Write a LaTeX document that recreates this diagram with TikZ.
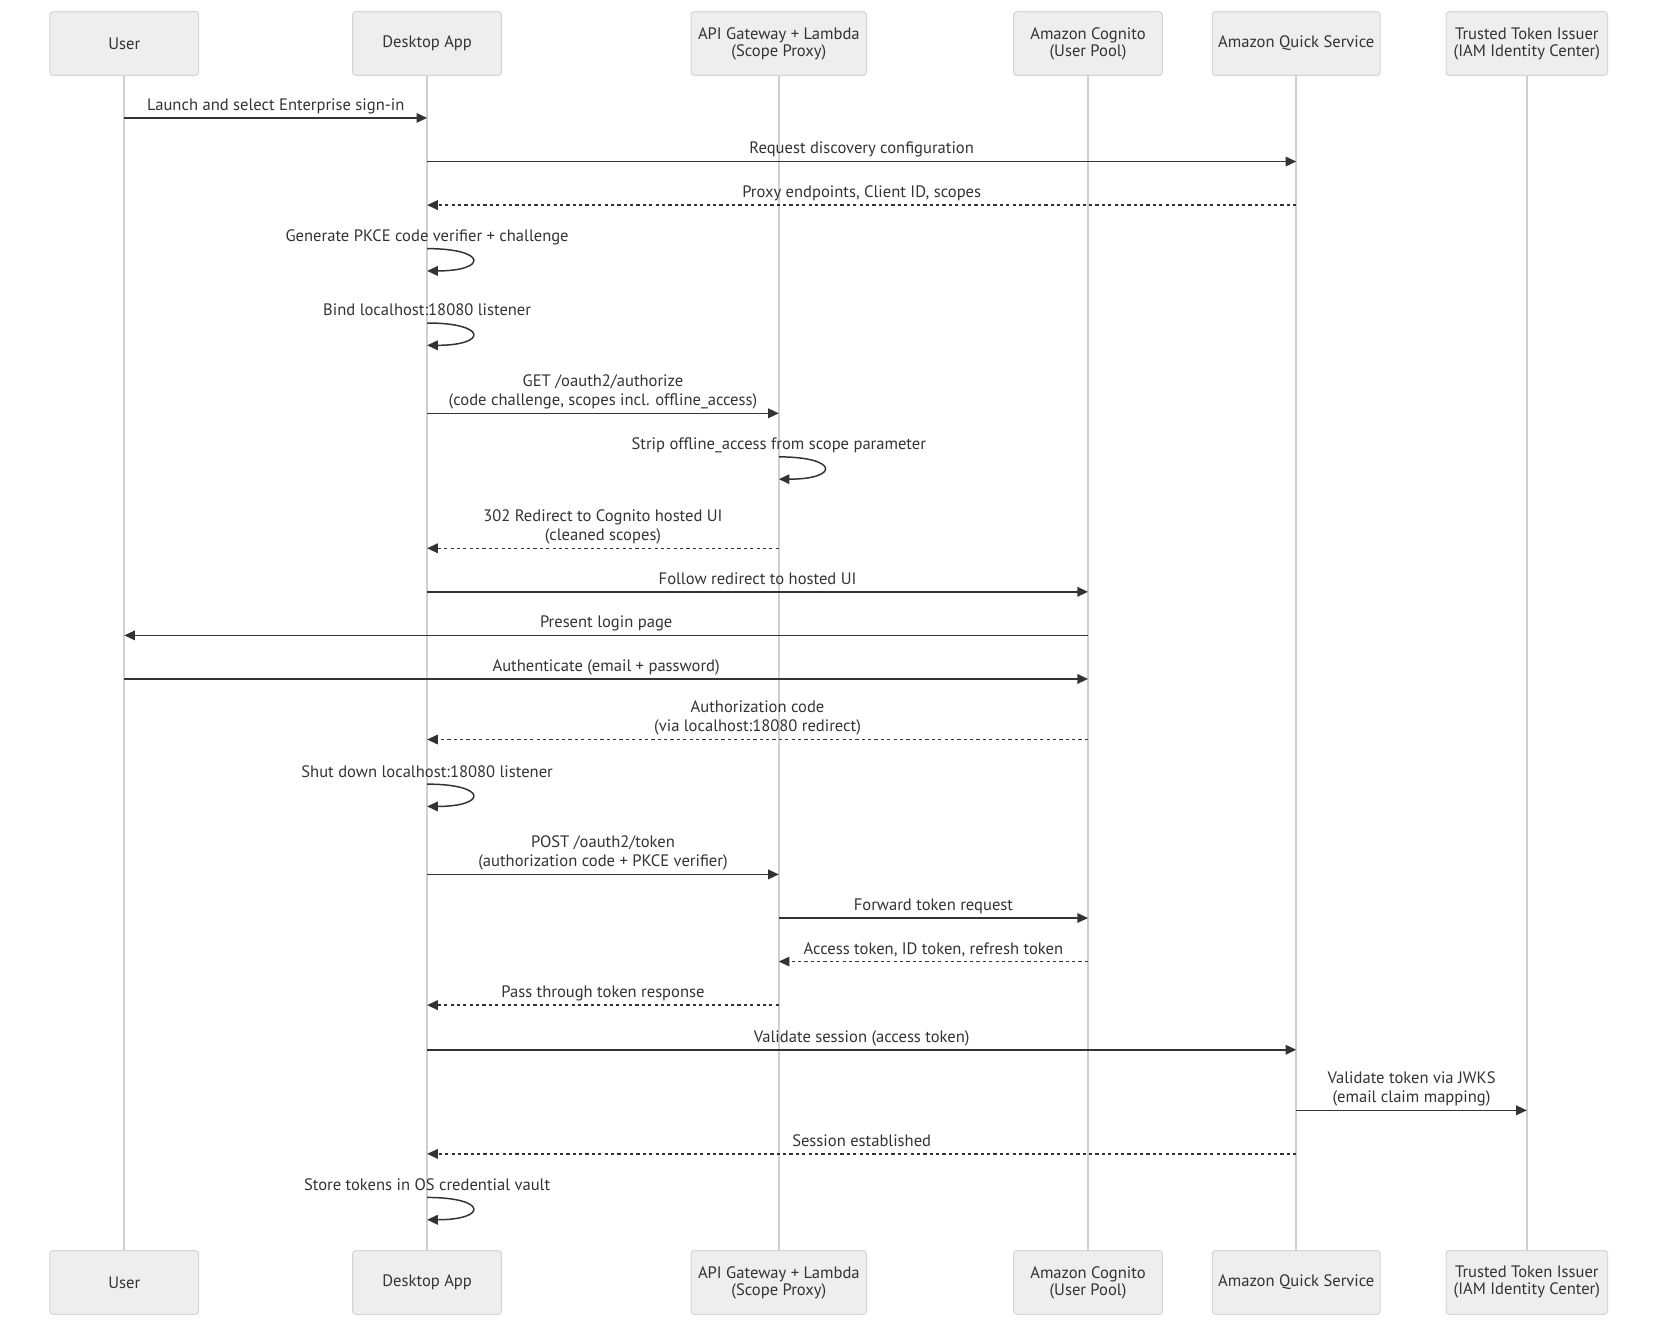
\documentclass[tikz,border=0pt]{standalone}
\usepackage{fontspec}
\setmainfont{PT Sans}
\usetikzlibrary{arrows.meta}
\definecolor{ActorFill}{HTML}{EEEEEE}
\definecolor{ActorLine}{HTML}{D6D6D6}
\definecolor{LifeLine}{HTML}{D0D0D0}
\definecolor{Ink}{HTML}{333333}

\begin{document}
\begin{tikzpicture}[x=1pt, y=1pt,
        actor/.style={draw=ActorLine, fill=ActorFill, rounded corners=3pt,
                      line width=1pt, text=Ink, font=\fontsize{15.6}{16}\selectfont,
                      align=center, minimum height=60pt, inner sep=0pt},
        life/.style={LifeLine, line width=1.6pt},
        msg/.style={Ink, line width=1.4pt, -{Triangle[length=10pt, width=9pt]}},
        reply/.style={msg, dash pattern=on 3pt off 3pt},
        lbl/.style={text=Ink, font=\fontsize{15.6}{18}\selectfont, align=center,
                    inner sep=0pt, above=1pt, execute at end node=\strut}
      ]
        \useasboundingbox (0,0) rectangle (1568,-1252);
        \node[actor, minimum width=140pt] (user) at (117,-41) {User};
        \node[actor, minimum width=140pt] (app) at (402,-41) {Desktop App};
        \node[actor, minimum width=165pt] (gw) at (733,-41) {API Gateway + Lambda\\(Scope Proxy)};
        \node[actor, minimum width=140pt] (cognito) at (1024,-41) {Amazon Cognito\\(User Pool)};
        \node[actor, minimum width=158pt] (quick) at (1220,-41) {Amazon Quick Service};
        \node[actor, minimum width=152pt] (tti) at (1437,-41) {Trusted Token Issuer\\(IAM Identity Center)};
        \node[actor, minimum width=140pt] (userB) at (117,-1207) {User};
        \node[actor, minimum width=140pt] (appB) at (402,-1207) {Desktop App};
        \node[actor, minimum width=165pt] (gwB) at (733,-1207) {API Gateway + Lambda\\(Scope Proxy)};
        \node[actor, minimum width=140pt] (cognitoB) at (1024,-1207) {Amazon Cognito\\(User Pool)};
        \node[actor, minimum width=158pt] (quickB) at (1220,-1207) {Amazon Quick Service};
        \node[actor, minimum width=152pt] (ttiB) at (1437,-1207) {Trusted Token Issuer\\(IAM Identity Center)};
        \draw[life] (user) -- (userB);
        \draw[life] (app) -- (appB);
        \draw[life] (gw) -- (gwB);
        \draw[life] (cognito) -- (cognitoB);
        \draw[life] (quick) -- (quickB);
        \draw[life] (tti) -- (ttiB);

        \coordinate (m1) at (0,-111);
        \coordinate (m2) at (0,-152);
        \coordinate (m3) at (0,-193);
        \coordinate (s4) at (0,-234);
        \coordinate (s5) at (0,-304);
        \coordinate (m6) at (0,-389);
        \coordinate (s7) at (0,-430);
        \coordinate (m8) at (0,-516);
        \coordinate (m9) at (0,-557);
        \coordinate (m10) at (0,-598);
        \coordinate (m11) at (0,-639);
        \coordinate (m12) at (0,-696);
        \coordinate (s13) at (0,-738);
        \coordinate (m14) at (0,-823);
        \coordinate (m15) at (0,-864);
        \coordinate (m16) at (0,-905);
        \coordinate (m17) at (0,-946);
        \coordinate (m18) at (0,-988);
        \coordinate (m19) at (0,-1045);
        \coordinate (m20) at (0,-1086);
        \coordinate (s21) at (0,-1127);

        \draw[msg] (user |- m1) -- (app |- m1) node[lbl, midway] {Launch and select Enterprise sign-in};
        \draw[msg] (app |- m2) -- (quick |- m2) node[lbl, midway] {Request discovery configuration};
        \draw[reply] (quick |- m3) -- (app |- m3) node[lbl, midway] {Proxy endpoints, Client ID, scopes};
        \node[lbl] (s4txt) at (app |- s4) {Generate PKCE code verifier + challenge};
        \draw[msg] (app |- s4) to[out=0, in=0, distance=57pt] ++(0,-21);
        \node[lbl] (s5txt) at (app |- s5) {Bind localhost:18080 listener};
        \draw[msg] (app |- s5) to[out=0, in=0, distance=57pt] ++(0,-21);
        \draw[msg] (app |- m6) -- (gw |- m6) node[lbl, midway] {GET /oauth2/authorize\\(code challenge, scopes incl. offline\_access)};
        \node[lbl] (s7txt) at (gw |- s7) {Strip offline\_access from scope parameter};
        \draw[msg] (gw |- s7) to[out=0, in=0, distance=57pt] ++(0,-21);
        \draw[reply] (gw |- m8) -- (app |- m8) node[lbl, midway] {302 Redirect to Cognito hosted UI\\(cleaned scopes)};
        \draw[msg] (app |- m9) -- (cognito |- m9) node[lbl, midway] {Follow redirect to hosted UI};
        \draw[msg] (cognito |- m10) -- (user |- m10) node[lbl, midway] {Present login page};
        \draw[msg] (user |- m11) -- (cognito |- m11) node[lbl, midway] {Authenticate (email + password)};
        \draw[reply] (cognito |- m12) -- (app |- m12) node[lbl, midway] {Authorization code\\(via localhost:18080 redirect)};
        \node[lbl] (s13txt) at (app |- s13) {Shut down localhost:18080 listener};
        \draw[msg] (app |- s13) to[out=0, in=0, distance=57pt] ++(0,-21);
        \draw[msg] (app |- m14) -- (gw |- m14) node[lbl, midway] {POST /oauth2/token\\(authorization code + PKCE verifier)};
        \draw[msg] (gw |- m15) -- (cognito |- m15) node[lbl, midway] {Forward token request};
        \draw[reply] (cognito |- m16) -- (gw |- m16) node[lbl, midway] {Access token, ID token, refresh token};
        \draw[reply] (gw |- m17) -- (app |- m17) node[lbl, midway] {Pass through token response};
        \draw[msg] (app |- m18) -- (quick |- m18) node[lbl, midway] {Validate session (access token)};
        \draw[msg] (quick |- m19) -- (tti |- m19) node[lbl, midway] {Validate token via JWKS\\(email claim mapping)};
        \draw[reply] (quick |- m20) -- (app |- m20) node[lbl, midway] {Session established};
        \node[lbl] (s21txt) at (app |- s21) {Store tokens in OS credential vault};
        \draw[msg] (app |- s21) to[out=0, in=0, distance=57pt] ++(0,-21);
      \end{tikzpicture}
\end{document}
